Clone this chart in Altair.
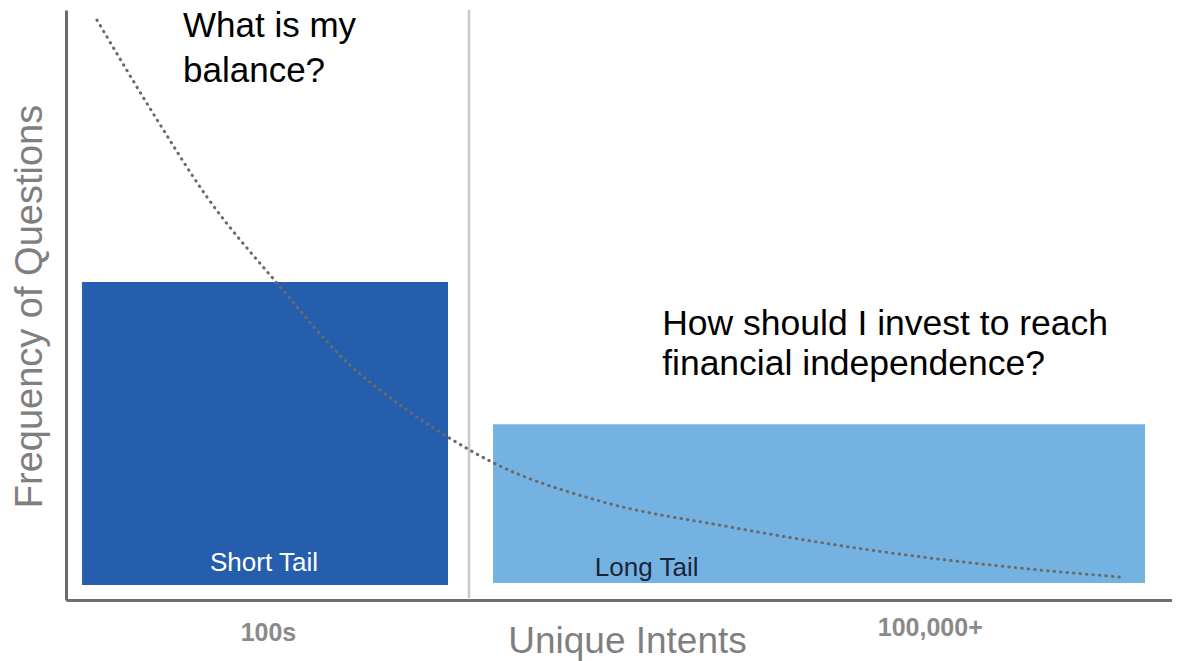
import altair as alt
import pandas as pd

# ---- data ----
bar_names = ["Short Tail", "Long Tail"]
bar_x0 = [1.45, 38.61]
bar_x1 = [34.54, 97.56]
bar_y0 = [2.54, 2.88]
bar_y1 = [53.9, 29.8]
bar_colors = ["#255EAC", "#74B3E1"]

curve_x = [2.80, 7.87, 12.75, 19.08, 25.68, 30.20, 34.54, 38.70, 48.01, 59.95, 72.60, 85.26, 95.30]
curve_y = [98.3, 82.5, 68.3, 53.7, 39.8, 33.05, 27.6, 23.2, 16.9, 12.4, 8.5, 5.6, 3.9]

separator_x = [36.44]

tick_values = [18.26, 78.1]
tick_labels = ["100s", "100,000+"]

label_text = ["Short Tail", "Long Tail"]
label_x = [17.9, 52.5]
label_y = [4.9, 4.1]
label_colors = ["#ffffff", "#1b2438"]

q1_text = ["What is my", "balance?"]
q1_x = [10.58]
q1_y = [95.42]
q2_text = ["How should I invest to reach", "financial independence?"]
q2_x = [53.9]
q2_y = [44.9]

FONT = "Liberation Sans"

bars = pd.DataFrame({"name": bar_names, "x0": bar_x0, "x1": bar_x1,
                     "y0": bar_y0, "y1": bar_y1})
curve = pd.DataFrame({"x": curve_x, "y": curve_y})
sep = pd.DataFrame({"x": separator_x, "y0": [0.34], "y1": [100]})
labels = pd.DataFrame({"t": label_text, "x": label_x, "y": label_y})
q1 = pd.DataFrame({"t": ["\n".join(q1_text)], "x": q1_x, "y": q1_y})
q2 = pd.DataFrame({"t": ["\n".join(q2_text)], "x": q2_x, "y": q2_y})

label_expr = "datum.value < 50 ? '%s' : '%s'" % (tick_labels[0], tick_labels[1])

xs = alt.Scale(domain=[0, 100], nice=False, zero=False)
ys = alt.Scale(domain=[0, 100], nice=False, zero=False)

x_axis = alt.Axis(values=tick_values, labelExpr=label_expr, ticks=False, grid=False,
                  domainColor="#707070", domainWidth=3,
                  labelFont=FONT, labelFontSize=25, labelFontWeight="bold",
                  labelColor="#8a8a8a",
                  labelPadding={"condition": {"test": "datum.value > 50", "value": 15}, "value": 20},
                  title="Unique Intents", titleFont=FONT, titleFontSize=37,
                  titleFontWeight="normal", titleColor="#7f7f7f",
                  titleX=561, titleY=52, titleBaseline="alphabetic", titleAlign="center")
y_axis = alt.Axis(values=[], ticks=False, grid=False, labels=False,
                  domainColor="#6a6a6a", domainWidth=3,
                  title="Frequency of Questions", titleFont=FONT, titleFontSize=38,
                  titleFontWeight="normal", titleColor="#7f7f7f",
                  titleX=-36, titleY=296, titleBaseline="middle", titleAlign="center",
                  titleAngle=270)

base_bars = alt.Chart(bars).mark_rect().encode(
    x=alt.X("x0:Q", scale=xs, axis=x_axis),
    x2="x1:Q",
    y=alt.Y("y0:Q", scale=ys, axis=y_axis),
    y2="y1:Q",
    color=alt.Color("name:N", scale=alt.Scale(domain=bar_names, range=bar_colors), legend=None),
)

sep_rule = alt.Chart(sep).mark_rule(color="#c8c8c8", strokeWidth=2.5).encode(
    x=alt.X("x:Q", scale=xs), y=alt.Y("y0:Q", scale=ys), y2="y1:Q")

line = alt.Chart(curve).mark_line(color="#6a6a6a", strokeWidth=3, strokeDash=[0.5, 6],
                                  strokeCap="round", interpolate="monotone").encode(
    x=alt.X("x:Q", scale=xs), y=alt.Y("y:Q", scale=ys))

bar_labels = alt.Chart(labels).mark_text(font=FONT, fontSize=26, align="center",
                                         baseline="alphabetic").encode(
    x=alt.X("x:Q", scale=xs), y=alt.Y("y:Q", scale=ys), text="t:N",
    color=alt.Color("t:N", scale=alt.Scale(domain=label_text, range=label_colors), legend=None))

q1_text_mark = alt.Chart(q1).mark_text(font=FONT, fontSize=35, align="left",
                                       baseline="alphabetic", lineBreak="\n",
                                       lineHeight=45, color="#000000").encode(
    x=alt.X("x:Q", scale=xs), y=alt.Y("y:Q", scale=ys), text="t:N")

q2_text_mark = alt.Chart(q2).mark_text(font=FONT, fontSize=35.5, align="left",
                                       baseline="alphabetic", lineBreak="\n",
                                       lineHeight=40, color="#000000").encode(
    x=alt.X("x:Q", scale=xs), y=alt.Y("y:Q", scale=ys), text="t:N")

chart = alt.layer(base_bars, sep_rule, line, bar_labels, q1_text_mark, q2_text_mark).properties(
    width=1106, height=590,
    padding={"left": 58, "top": 2, "right": 0, "bottom": 61},
    autosize=alt.AutoSizeParams(type="none"),
    background="#ffffff",
).resolve_scale(color="independent").configure_view(stroke=None).configure_axis(grid=False)

chart.save("out.html", embed_options={"renderer": "svg", "actions": False})
